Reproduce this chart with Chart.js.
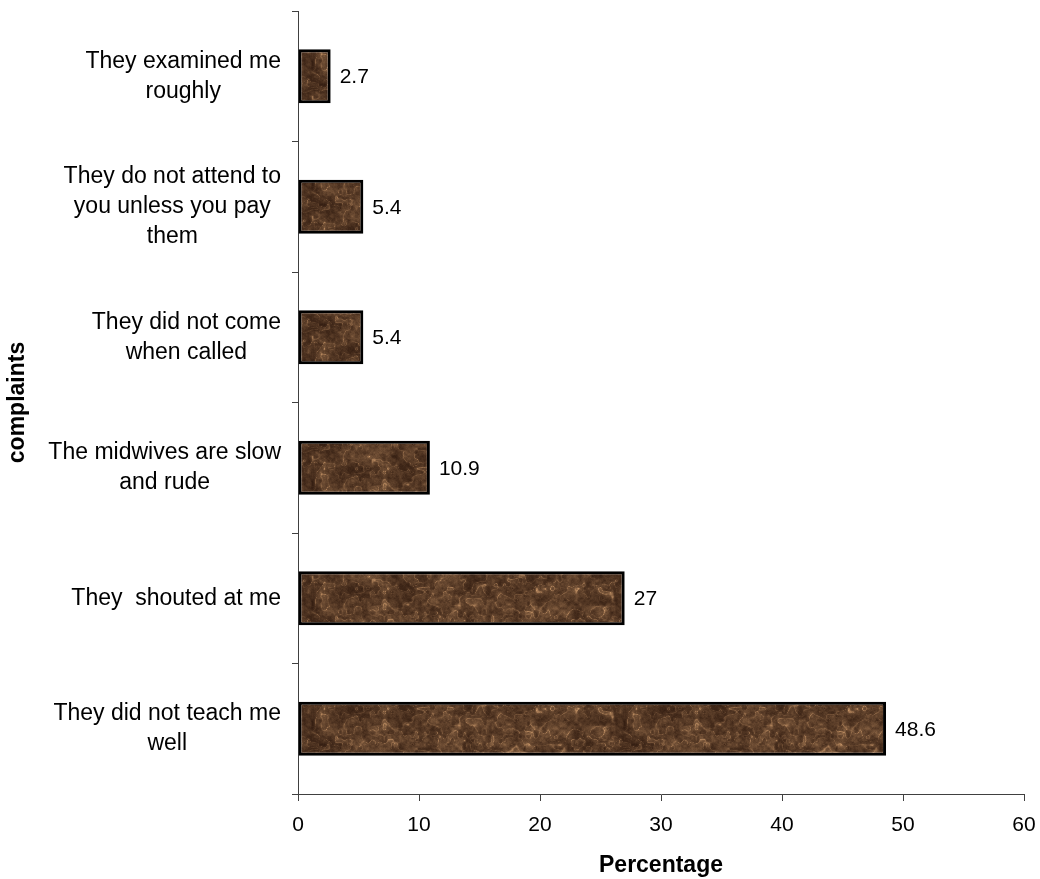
<!DOCTYPE html>
<html>
<head>
<meta charset="utf-8">
<script src="https://cdn.jsdelivr.net/npm/chart.js@4/dist/chart.umd.min.js"></script>
<style>
  html, body { margin: 0; padding: 0; background: #ffffff; }
  #wrap { width: 1040px; height: 879px; }
</style>
</head>
<body>
<div id="wrap"><canvas id="c" width="1040" height="879"></canvas></div>
<script>
// ---- data ----
const categories = [
  ["They examined me", "roughly"],
  ["They do not attend to", "you unless you pay", "them"],
  ["They did not come", "when called"],
  ["The midwives are slow", "and rude"],
  ["They  shouted at me"],
  ["They did not teach me", "well"]
];
const percentages = [2.7, 5.4, 5.4, 10.9, 27, 48.6];
const valueLabels = ["2.7", "5.4", "5.4", "10.9", "27", "48.6"];
const xTicks = [0, 10, 20, 30, 40, 50, 60];
const xTitle = "Percentage";
const yTitle = "complaints";

// ---- brown marbled texture (style only, seamless tile) ----
function makeTexture() {
  const w = 312, h = 60;
  const cv = document.createElement('canvas');
  cv.width = w; cv.height = h;
  const g = cv.getContext('2d');
  const img = g.createImageData(w, h);
  const hash = (x, y) => {
    const s = Math.sin(x * 12.9898 + y * 78.233) * 43758.5453;
    return s - Math.floor(s);
  };
  // periodic value noise: px, py are lattice periods
  const vnoise = (x, y, px, py) => {
    const xi = Math.floor(x), yi = Math.floor(y);
    const xf = x - xi, yf = y - yi;
    const u = xf * xf * (3 - 2 * xf), v = yf * yf * (3 - 2 * yf);
    const x0 = ((xi % px) + px) % px, x1 = (x0 + 1) % px;
    const y0 = ((yi % py) + py) % py, y1 = (y0 + 1) % py;
    const a = hash(x0, y0), b = hash(x1, y0), c = hash(x0, y1), d = hash(x1, y1);
    return a + (b - a) * u + (c - a) * v + (a - b - c + d) * u * v;
  };
  const TAU = Math.PI * 2;
  for (let y = 0; y < h; y++) {
    for (let x = 0; x < w; x++) {
      const n1 = vnoise(x / 12, y / 12, w / 12, h / 12);
      const n2 = vnoise(x / 4, y / 4, w / 4, h / 4);
      const n3 = vnoise(x / 2, y / 2, w / 2, h / 2);
      const n4 = hash(x, y);
      const swirl = Math.sin(x * TAU * 3 / w + 5 * n1 + Math.sin(y * TAU / h + n2 * 2) * 2.2);
      const vein = Math.pow(1 - Math.abs(swirl), 4) * (0.4 + 0.6 * n2);
      let t = 0.03 + 0.28 * n1 + 0.25 * n2 + 0.17 * n3 + 0.08 * n4 + 0.38 * vein;
      t = Math.max(0, Math.min(1, t));
      t = t * t * 0.65 + t * 0.35;
      const i = (y * w + x) * 4;
      img.data[i] = 46 + t * 150;
      img.data[i + 1] = 25 + t * 122;
      img.data[i + 2] = 14 + t * 88;
      img.data[i + 3] = 255;
    }
  }
  g.putImageData(img, 0, 0);
  return cv;
}
const texCanvas = makeTexture();
const ctx = document.getElementById('c').getContext('2d');
const barPattern = ctx.createPattern(texCanvas, 'repeat');

// ---- plugins ----
const catFont = '23px "Liberation Sans", Arial, sans-serif';
const valFont = '21px "Liberation Sans", Arial, sans-serif';

const categoryLabels = {
  id: 'categoryLabels',
  afterDraw(chart) {
    const c = chart.ctx;
    const ys = chart.scales.y;
    const rightEdge = ys.right - 17;
    const lh = 30;
    c.save();
    c.font = catFont;
    c.fillStyle = '#000';
    c.textAlign = 'center';
    c.textBaseline = 'middle';
    categories.forEach((lines, i) => {
      const yc = ys.getPixelForValue(i);
      const widest = Math.max(...lines.map(l => c.measureText(l).width));
      const xc = rightEdge - widest / 2;
      const y0 = yc - (lines.length - 1) * lh / 2;
      lines.forEach((l, k) => c.fillText(l, xc, y0 + k * lh));
    });
    c.restore();
  }
};

const valueLabelsPlugin = {
  id: 'valueLabels',
  afterDatasetsDraw(chart) {
    const c = chart.ctx;
    const meta = chart.getDatasetMeta(0);
    c.save();
    c.font = valFont;
    c.fillStyle = '#000';
    c.textAlign = 'left';
    c.textBaseline = 'middle';
    meta.data.forEach((bar, i) => {
      c.fillText(valueLabels[i], bar.x + 9, bar.y + 1);
    });
    c.restore();
  }
};

new Chart(ctx, {
  type: 'bar',
  data: {
    labels: categories,
    datasets: [{
      data: percentages,
      backgroundColor: barPattern,
      borderColor: '#000000',
      borderWidth: 3,
      borderSkipped: false,
      categoryPercentage: 1,
      barPercentage: 0.414
    }]
  },
  options: {
    indexAxis: 'y',
    responsive: false,
    animation: false,
    devicePixelRatio: 1,
    layout: { padding: { top: 11, right: 0, left: 0, bottom: 0 } },
    plugins: {
      legend: { display: false },
      tooltip: { enabled: false }
    },
    scales: {
      x: {
        type: 'linear',
        min: 0,
        max: 60,
        afterBuildTicks(s) { s.ticks = xTicks.map(v => ({ value: v })); },
        afterFit(s) { s.height = 85; s.paddingRight = 16; s.paddingLeft = 0; },
        grid: {
          drawOnChartArea: false,
          drawTicks: true,
          tickLength: 7,
          color: '#404040',
          lineWidth: 1
        },
        border: { display: true, color: '#404040', width: 1 },
        ticks: {
          color: '#000',
          padding: 12,
          font: { family: '"Liberation Sans", Arial, sans-serif', size: 21 }
        },
        title: {
          display: true,
          text: xTitle,
          color: '#000',
          padding: { top: 0, bottom: 0 },
          font: { family: '"Liberation Sans", Arial, sans-serif', size: 23, weight: 'bold' }
        }
      },
      y: {
        type: 'category',
        offset: true,
        afterFit(s) { s.width = 298; },
        grid: {
          drawOnChartArea: false,
          drawTicks: true,
          offset: true,
          tickLength: 6,
          color: '#404040',
          lineWidth: 1
        },
        border: { display: true, color: '#404040', width: 1 },
        ticks: { display: false },
        title: {
          display: true,
          text: yTitle,
          color: '#000',
          padding: { top: 4, bottom: 0 },
          font: { family: '"Liberation Sans", Arial, sans-serif', size: 23, weight: 'bold' }
        }
      }
    }
  },
  plugins: [categoryLabels, valueLabelsPlugin]
});
</script>
</body>
</html>
